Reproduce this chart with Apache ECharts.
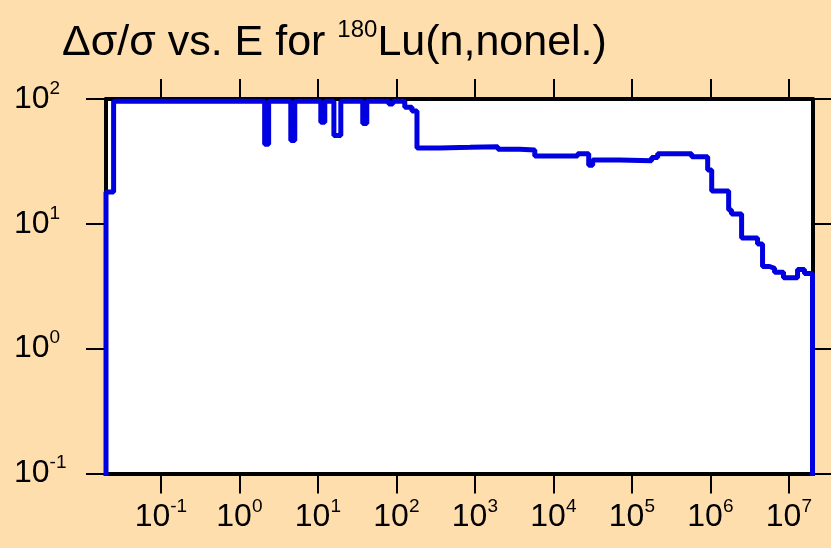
<!DOCTYPE html>
<html>
<head>
<meta charset="utf-8">
<script src="https://cdn.jsdelivr.net/npm/echarts@6/dist/echarts.min.js"></script>
<style>
  html, body { margin: 0; padding: 0; background: #ffdead; }
  #chart { width: 831px; height: 548px; }
</style>
</head>
<body>
<div id="chart"></div>
<script>
// lower bin edges (eV) and relative uncertainty (%) of each bin
const energy = [
  0.02, 0.02, 0.025, 2.1, 2.36, 4.52, 5.08, 10.9, 12.25, 16.0, 19.6, 37.3, 42.0,
  80, 90, 128, 158, 183, 359, 865, 1963, 3730, 5795, 20400, 28200, 31700,
  70000, 178600, 213000, 578000, 924000, 1.04e6, 1.71e6, 1.86e6, 2.5e6, 3.99e6,
  4.62e6, 5.68e6, 6.57e6, 8.55e6, 1.29e7, 1.58e7, 2e7
]
const relUnc = [
  0.01, 18, 96, 43.5, 96, 46.5, 96, 65, 96, 51, 96, 63.5, 96,
  91, 96, 86, 80, 40.5, 41, 41.5, 39.5, 39, 35, 36.5, 29.5, 32.5,
  32, 34, 36.5, 34.5, 27, 18.3, 12.9, 12, 7.7, 6.9,
  4.55, 4.4, 4.1, 3.7, 4.3, 4.0, 0.01
]
const xTicks = [0.1, 1, 10, 100, 1e3, 1e4, 1e5, 1e6, 1e7]
const yTicks = [0.1, 1, 10, 100]

const font = '"Liberation Sans", Arial, sans-serif'
const powRich = {
  b: { fontSize: 32, lineHeight: 40, fontFamily: font, color: '#000' },
  s: { fontSize: 19, lineHeight: 18, verticalAlign: 'top', fontFamily: font, color: '#000' }
}
const powLabel = v => '{b|10}{s|' + Math.round(Math.log10(v)) + '}'

const frame = { lineStyle: { color: '#000', width: 4 } }
const ticks = (vals) => ({ show: true, inside: false, length: 20, customValues: vals, lineStyle: { color: '#000', width: 2 } })

const chart = echarts.init(document.getElementById('chart'))
chart.setOption({
  animation: false,
  backgroundColor: '#ffdead',
  title: {
    text: '{a|Δσ/σ vs. E for }{s|180}{a|Lu(n,nonel.)}',
    left: 62,
    top: 18,
    padding: 0,
    textStyle: {
      fontWeight: 'normal',
      rich: {
        a: { fontSize: 43, lineHeight: 50, fontWeight: 'normal', fontFamily: font, color: '#000' },
        s: { fontSize: 24, lineHeight: 30, fontWeight: 'normal', verticalAlign: 'top', fontFamily: font, color: '#000' }
      }
    }
  },
  grid: { left: 106, top: 99, right: 18.5, bottom: 74.5, show: true, backgroundColor: '#fff', borderWidth: 0, outerBoundsMode: 'none' },
  xAxis: [
    {
      type: 'log', logBase: 10, min: 0.02, max: 2e7, position: 'bottom',
      axisLine: frame, axisTick: ticks(xTicks), minorTick: { show: false }, splitLine: { show: false },
      axisLabel: { customValues: xTicks, margin: 24, formatter: powLabel, rich: powRich }
    },
    {
      type: 'log', logBase: 10, min: 0.02, max: 2e7, position: 'top',
      axisLine: frame, axisTick: ticks(xTicks), splitLine: { show: false },
      axisLabel: { show: false }
    }
  ],
  yAxis: [
    {
      type: 'log', logBase: 10, min: 0.1, max: 100, position: 'left',
      axisLine: frame, axisTick: ticks(yTicks), splitLine: { show: false },
      axisLabel: { customValues: yTicks, margin: 92, align: 'left', formatter: powLabel, rich: powRich }
    },
    {
      type: 'log', logBase: 10, min: 0.1, max: 100, position: 'right',
      axisLine: frame, axisTick: ticks(yTicks), splitLine: { show: false },
      axisLabel: { show: false }
    }
  ],
  series: [
    {
      type: 'line',
      step: 'end',
      symbol: 'none',
      clip: true,
      data: energy.map((e, i) => [e, relUnc[i]]),
      lineStyle: { color: '#0000e0', width: 5 }
    }
  ]
})
</script>
</body>
</html>
